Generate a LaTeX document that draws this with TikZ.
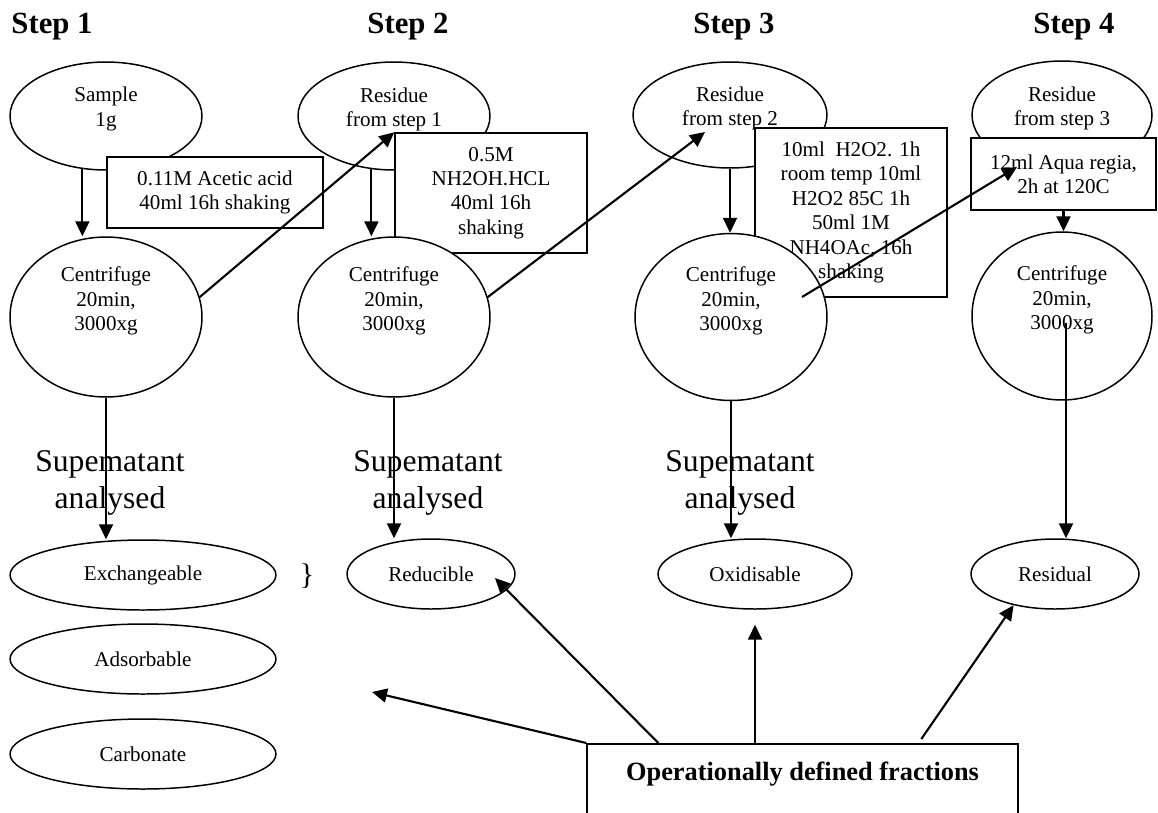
\documentclass[tikz,border=0pt]{standalone}
\usepackage{fontspec}
\setmainfont{Liberation Serif}
\usetikzlibrary{shapes.geometric, arrows.meta, calc}

\begin{document}
\begin{tikzpicture}[x=0.02cm, y=-0.02cm, >={Triangle[length=3mm, width=2.8mm]},
    oval/.style={ellipse, draw, fill=white, line width=0.85pt, inner sep=0pt, font=\fontsize{12}{13.8}\selectfont},
    reagent/.style={rectangle, draw, fill=white, line width=0.85pt, align=center, font=\fontsize{12}{13.9}\selectfont},
    txt/.style={align=center, font=\fontsize{12}{13.8}\selectfont},
    flow/.style={->, line width=1.2pt},
    steplbl/.style={anchor=base, font=\fontsize{17.5}{20}\selectfont\bfseries},
    supl/.style={align=center, font=\fontsize{18}{21}\selectfont}]
    \path[use as bounding box, clip] (0,0) rectangle (1158,812);

    % step titles
    \node[steplbl] (step1) at (52,33) {Step 1};
    \node[steplbl] (step2) at (408,33) {Step 2};
    \node[steplbl] (step3) at (734,33) {Step 3};
    \node[steplbl] (step4) at (1074,33) {Step 4};

    % starting material of each step
    \node[oval, minimum width=3.84cm, minimum height=2.16cm, label={[txt, name=samplet, yshift=0.14cm]center:Sample\\1g}] (sample) at (106,116) {};
    \node[oval, minimum width=3.84cm, minimum height=2.16cm, label={[txt, name=res1t, yshift=0.13cm]center:Residue\\from step 1}] (res1) at (394,116) {};
    \node[oval, minimum width=3.88cm, minimum height=2.12cm, label={[txt, name=res2t, yshift=0.13cm]center:Residue\\from step 2}] (res2) at (730,115) {};
    \node[oval, minimum width=3.6cm, minimum height=2.16cm, label={[txt, name=res3t, yshift=0.13cm]center:Residue\\from step 3}] (res3) at (1062,115) {};

    % reagents
    \node[reagent, minimum width=4.32cm, minimum height=1.42cm] (acid) at (215,192.5) {0.11M Acetic acid\\40ml 16h shaking};
    \node[reagent, minimum width=3.84cm, minimum height=2.4cm] (hydrox) at (491,193) {0.5M\\NH2OH.HCL\\40ml 16h\\shaking};
    \node[reagent, minimum width=3.84cm, minimum height=3.38cm] (perox) at (851,212.5) {10ml~ H2O2. 1h\\room temp 10ml\\H2O2 85C 1h\\50ml 1M\\NH4OAc, 16h\\shaking};
    \node[reagent, minimum width=3.7cm, minimum height=1.44cm] (aqua) at (1063.5,174) {12ml Aqua regia,\\2h at 120C};

    % centrifuge
    \node[oval, minimum width=3.84cm, minimum height=3.2cm, label={[txt, name=cent1t, yshift=0.32cm]center:Centrifuge\\20min,\\3000xg}] (cent1) at (106,317) {};
    \node[oval, minimum width=3.84cm, minimum height=3.2cm, label={[txt, name=cent2t, yshift=0.32cm]center:Centrifuge\\20min,\\3000xg}] (cent2) at (394,317) {};
    \node[oval, minimum width=3.84cm, minimum height=3.34cm, label={[txt, name=cent3t, yshift=0.32cm]center:Centrifuge\\20min,\\3000xg}] (cent3) at (731,317) {};
    \node[oval, minimum width=3.6cm, minimum height=3.36cm, label={[txt, name=cent4t, yshift=0.32cm]center:Centrifuge\\20min,\\3000xg}] (cent4) at (1062,316) {};

    % fractions
    \node[oval, minimum width=5.32cm, minimum height=1.4cm] (exch) at (143,575) {Exchangeable};
    \node[oval, minimum width=5.32cm, minimum height=1.4cm] (adsorb) at (143,659) {Adsorbable};
    \node[oval, minimum width=5.32cm, minimum height=1.4cm] (carb) at (143,754) {Carbonate};
    \node[font=\fontsize{17}{19}\selectfont] (brace) at (307,576) {\}};
    \node[oval, minimum width=3.36cm, minimum height=1.4cm] (reduc) at (431,574) {Reducible};
    \node[oval, minimum width=3.88cm, minimum height=1.4cm] (oxid) at (755,574) {Oxidisable};
    \node[oval, minimum width=3.36cm, minimum height=1.4cm] (resid) at (1055,574) {Residual};

    \node[draw, line width=0.85pt, anchor=north, minimum width=8.62cm, inner ysep=0.36cm, text depth=2cm,
          font=\fontsize{15}{18}\selectfont\bfseries] (frac) at (802.5,743) {Operationally defined fractions};

    \node[supl] (sup1) at (110,483) {Supematant\\analysed};
    \node[supl] (sup2) at (428,483) {Supematant\\analysed};
    \node[supl] (sup3) at (740,483) {Supematant\\analysed};

    % free ends
    \coordinate (tip2) at (705,132);
    \coordinate (c3out) at (802,297);
    \coordinate (tip3) at (1017,167);
    \coordinate (c4out) at (1066,323);
    \coordinate (tipL) at (372,692);
    \coordinate (tipR) at (495,578);

    \draw[flow] (sample.-114) -- (sample.-114 |- cent1.north);
    \draw[flow] (res1.-113) -- (res1.-113 |- cent2.north);
    \draw[flow] (res2.south) -- (res2.south |- cent3.north);
    \draw[flow] (aqua.south) -- (aqua.south |- cent4.north);
    \draw[flow] (cent1.12) -- (hydrox.north west);
    \draw[flow] (cent2.12) -- (tip2);
    \draw[flow] (c3out) -- (tip3);
    \draw[flow] (cent1.south) -- (cent1.south |- exch.north);
    \draw[flow] (cent2.south) -- (cent2.south |- reduc.north);
    \draw[flow] (cent3.south) -- (cent3.south |- oxid.north);
    \draw[flow] (c4out) -- (c4out |- resid.north);
    \draw[flow] (frac.north west) -- (tipL);
    \draw[flow] ($(frac.north west)+(72,0)$) -- (tipR);
    \draw[flow] (frac.north -| oxid) -- ([yshift=-0.3cm]oxid.south);
    \draw[flow] ($(frac.north west)+(335,-4)$) -- (resid.217);
\end{tikzpicture}
\end{document}
